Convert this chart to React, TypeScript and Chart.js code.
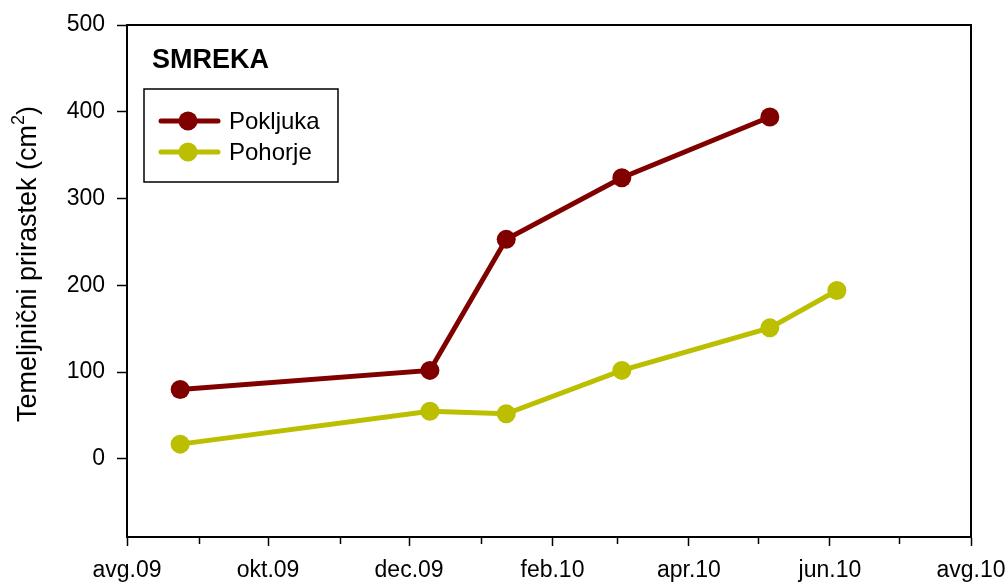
import React, { useEffect, useRef } from 'react';
import { Chart, registerables } from 'chart.js';

Chart.register(...registerables);

// ---- data ----
const monthTickDates = [
  '2009-08-01', '2009-09-01', '2009-10-01', '2009-11-01', '2009-12-01', '2010-01-01',
  '2010-02-01', '2010-03-01', '2010-04-01', '2010-05-01', '2010-06-01', '2010-07-01', '2010-08-01',
];
const monthTickLabels = ['avg.09', '', 'okt.09', '', 'dec.09', '', 'feb.10', '', 'apr.10', '', 'jun.10', '', 'avg.10'];

const pokljukaDates = ['2009-08-24', '2009-12-10', '2010-01-12', '2010-03-03', '2010-05-06'];
const pokljukaValues = [80, 102, 253, 324, 394];

const pohorjeDates = ['2009-08-24', '2009-12-10', '2010-01-12', '2010-03-03', '2010-05-06', '2010-06-04'];
const pohorjeValues = [17, 55, 52, 102, 151, 194];

const yTickValues = [0, 100, 200, 300, 400, 500];
const yMin = -90;
const yMax = 500;

const chartTitle = 'SMREKA';
const yTitleMain = 'Temeljnični prirastek (cm';
const yTitleSup = '2';
const yTitleEnd = ')';
const seriesNames = ['Pokljuka', 'Pohorje'];
const seriesColors = ['#800000', '#BBBF00'];

// ---- helpers ----
const FONT = '"Liberation Sans", Arial, sans-serif';
const DAY = 86400000;
const origin = Date.parse(monthTickDates[0]);
const toDay = (s: string) => (Date.parse(s) - origin) / DAY;
const tickDays = monthTickDates.map(toDay);
const majorDays = tickDays.filter((_, i) => monthTickLabels[i] !== '');
const minorDays = tickDays.filter((_, i) => monthTickLabels[i] === '');

const decorPlugin = {
  id: 'decor',
  afterDraw(chart: any) {
    const { ctx, chartArea } = chart;
    const { left, top, right, bottom } = chartArea;
    ctx.save();
    // frame
    ctx.strokeStyle = '#000';
    ctx.lineWidth = 2;
    ctx.strokeRect(left, top, right - left, bottom - top);

    // minor x ticks
    const xs = chart.scales.x;
    ctx.lineWidth = 1.5;
    minorDays.forEach((d) => {
      const px = Math.round(xs.getPixelForValue(d)) + 0.5;
      ctx.beginPath();
      ctx.moveTo(px, bottom);
      ctx.lineTo(px, bottom + 7);
      ctx.stroke();
    });

    // title
    ctx.fillStyle = '#000';
    ctx.font = `bold 27px ${FONT}`;
    ctx.textAlign = 'left';
    ctx.textBaseline = 'alphabetic';
    ctx.fillText(chartTitle, left + 25, top + 43);

    // legend box
    const bx = left + 17, by = top + 64, bw = 194, bh = 93;
    ctx.lineWidth = 1.5;
    ctx.strokeStyle = '#000';
    ctx.strokeRect(bx, by, bw, bh);
    const rows = [top + 96, top + 127];
    seriesNames.forEach((name, i) => {
      const ry = rows[i];
      ctx.strokeStyle = seriesColors[i];
      ctx.lineWidth = 5;
      ctx.lineCap = 'round';
      ctx.beginPath();
      ctx.moveTo(bx + 17, ry);
      ctx.lineTo(bx + 74, ry);
      ctx.stroke();
      ctx.fillStyle = seriesColors[i];
      ctx.beginPath();
      ctx.arc(bx + 44, ry, 9.5, 0, Math.PI * 2);
      ctx.fill();
      ctx.fillStyle = '#000';
      ctx.font = `24px ${FONT}`;
      ctx.textBaseline = 'middle';
      ctx.fillText(name, bx + 85, ry + 1);
    });

    // y title, rotated
    const cx = 29;
    const cy = 264;
    ctx.translate(cx, cy);
    ctx.rotate(-Math.PI / 2);
    ctx.fillStyle = '#000';
    ctx.textBaseline = 'middle';
    ctx.textAlign = 'left';
    const mainFont = `27px ${FONT}`;
    const supFont = `18px ${FONT}`;
    ctx.font = mainFont;
    const w1 = ctx.measureText(yTitleMain).width;
    const w3 = ctx.measureText(yTitleEnd).width;
    ctx.font = supFont;
    const w2 = ctx.measureText(yTitleSup).width;
    const total = w1 + w2 + w3;
    const x0 = -total / 2;
    ctx.font = mainFont;
    ctx.fillText(yTitleMain, x0, 0);
    ctx.font = supFont;
    ctx.fillText(yTitleSup, x0 + w1, -10);
    ctx.font = mainFont;
    ctx.fillText(yTitleEnd, x0 + w1 + w2, 0);
    ctx.restore();
  },
};

export default function App() {
  const ref = useRef<HTMLCanvasElement | null>(null);

  useEffect(() => {
    if (!ref.current) return;
    const chart = new Chart(ref.current, {
      type: 'line',
      data: {
        datasets: [
          {
            label: seriesNames[0],
            data: pokljukaDates.map((d, i) => ({ x: toDay(d), y: pokljukaValues[i] })),
            borderColor: seriesColors[0],
            backgroundColor: seriesColors[0],
            borderWidth: 5,
            pointRadius: 9.5,
            pointHoverRadius: 9.5,
            pointBorderWidth: 0,
            tension: 0,
          },
          {
            label: seriesNames[1],
            data: pohorjeDates.map((d, i) => ({ x: toDay(d), y: pohorjeValues[i] })),
            borderColor: seriesColors[1],
            backgroundColor: seriesColors[1],
            borderWidth: 5,
            pointRadius: 9.5,
            pointHoverRadius: 9.5,
            pointBorderWidth: 0,
            tension: 0,
          },
        ],
      },
      options: {
        responsive: false,
        animation: false,
        layout: { padding: { left: 0, top: 25, right: 37, bottom: 0 } },
        plugins: { legend: { display: false }, tooltip: { enabled: false } },
        scales: {
          x: {
            type: 'linear',
            min: tickDays[0],
            max: tickDays[tickDays.length - 1],
            afterBuildTicks: (s: any) => {
              s.ticks = majorDays.map((v) => ({ value: v }));
            },
            afterFit: (s: any) => {
              s.height = 49;
              s.paddingLeft = 0;
              s.paddingRight = 0;
            },
            ticks: {
              autoSkip: false,
              maxRotation: 0,
              color: '#000',
              padding: 11,
              font: { family: FONT, size: 23 },
              callback: (v: any) => {
                const idx = tickDays.indexOf(Number(v));
                return idx >= 0 ? monthTickLabels[idx] : '';
              },
            },
            grid: { drawOnChartArea: false, drawTicks: true, tickLength: 9, tickColor: '#000', tickWidth: 1.5 },
            border: { display: true, color: '#000', width: 2 },
          },
          y: {
            type: 'linear',
            min: yMin,
            max: yMax,
            afterBuildTicks: (s: any) => {
              s.ticks = yTickValues.map((v) => ({ value: v }));
            },
            afterFit: (s: any) => {
              s.width = 127;
              s.paddingTop = 0;
              s.paddingBottom = 0;
            },
            ticks: {
              color: '#000',
              padding: 12,
              font: { family: FONT, size: 23 },
            },
            grid: { drawOnChartArea: false, drawTicks: true, tickLength: 10, tickColor: '#000', tickWidth: 1.5 },
            border: { display: true, color: '#000', width: 2 },
          },
        },
      },
      plugins: [decorPlugin],
    } as any);
    return () => chart.destroy();
  }, []);

  return (
    <div style={{ position: 'fixed', left: 0, top: 0, width: 1008, height: 586, background: '#fff' }}>
      <canvas ref={ref} width={1008} height={586} style={{ display: 'block' }} />
    </div>
  );
}
